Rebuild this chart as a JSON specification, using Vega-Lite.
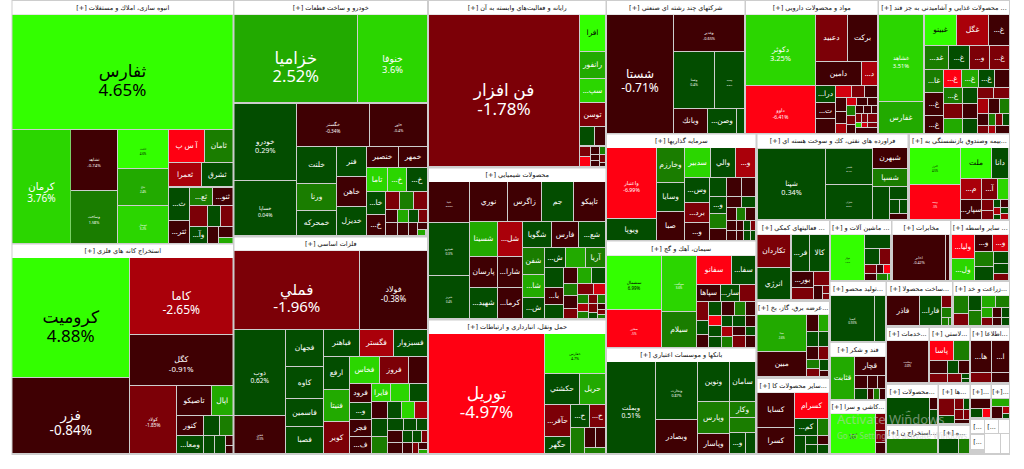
{"$schema":"https://vega.github.io/schema/vega-lite/v6.json","width":1024,"height":469,"padding":0,"autosize":{"type":"fit","contains":"padding"},"background":"#ffffff","view":{"stroke":null},
"datasets":{
"frame":[{"x0":11.5,"x1":1010,"y0":0,"y1":455}],
"marks":[{"x":837,"y":420,"t":"Activate Windows","k":"a"},{"x":837,"y":437,"t":"Go to Settings to activate Windows.","k":"b"}],
"headers":[
{"x0":12.5,"x1":233,"y0":1,"y1":14.5,"title":"[+] انبوه سازی، املاك و مستغلات"},
{"x0":234.5,"x1":427,"y0":1,"y1":14.5,"title":"[+] خودرو و ساخت قطعات"},
{"x0":234.5,"x1":427,"y0":237.5,"y1":250.5,"title":"[+] فلزات اساسي"},
{"x0":12.5,"x1":233,"y0":244.5,"y1":258,"title":"[+] استخراج كانه هاي فلزي"},
{"x0":429,"x1":605.5,"y0":1,"y1":14.5,"title":"[+] رايانه و فعاليت‌هاي وابسته به آن"},
{"x0":429,"x1":605.5,"y0":168.5,"y1":182,"title":"[+] محصولات شيميايي"},
{"x0":429,"x1":605.5,"y0":320.5,"y1":334,"title":"[+] حمل ونقل، انبارداري و ارتباطات"},
{"x0":607,"x1":744.5,"y0":1,"y1":14.5,"title":"[+] شركتهاي چند رشته اي صنعتي"},
{"x0":607,"x1":755.5,"y0":134.5,"y1":148,"title":"[+] سرمايه گذاريها"},
{"x0":607,"x1":755.5,"y0":241.5,"y1":255.5,"title":"[+] سيمان، آهك و گچ"},
{"x0":607,"x1":755.5,"y0":348.5,"y1":362,"title":"[+] بانكها و موسسات اعتباري"},
{"x0":746,"x1":877.5,"y0":1,"y1":14.5,"title":"[+] مواد و محصولات دارويي"},
{"x0":879,"x1":1009,"y0":1,"y1":14.5,"title":"[+] محصولات غذايي و آشاميدني به جز قند ..."},
{"x0":757.5,"x1":907.5,"y0":134.5,"y1":148,"title":"[+] فراورده هاي نفتي، كك و سوخت هسته اي"},
{"x0":910,"x1":1009,"y0":134.5,"y1":148,"title":"[+] بيمه وصندوق بازنشستگي به..."},
{"x0":757.5,"x1":829,"y0":221,"y1":234.5,"title":"[+] فعاليتهاي كمكي ..."},
{"x0":830.5,"x1":891,"y0":221,"y1":234.5,"title":"[+] ماشين آلات و ..."},
{"x0":892.5,"x1":950,"y0":221,"y1":234.5,"title":"[+] مخابرات"},
{"x0":951.5,"x1":1009,"y0":221,"y1":234.5,"title":"[+] سایر واسطه ..."},
{"x0":830.5,"x1":885.5,"y0":282,"y1":295.5,"title":"[+] توليد محصو..."},
{"x0":887,"x1":952,"y0":282,"y1":295.5,"title":"[+] ساخت محصولا..."},
{"x0":953.5,"x1":1009,"y0":282,"y1":295.5,"title":"[+] زراعت و خد..."},
{"x0":757.5,"x1":829,"y0":302,"y1":314.5,"title":"[+] عرضه برق، گاز، بخ..."},
{"x0":887,"x1":928.5,"y0":328,"y1":340.5,"title":"[+] خدمات..."},
{"x0":930,"x1":969.5,"y0":328,"y1":340.5,"title":"[+] لاستي..."},
{"x0":971,"x1":1009,"y0":328,"y1":340.5,"title":"[+] اطلاعا..."},
{"x0":830.5,"x1":885.5,"y0":343,"y1":356.5,"title":"[+] قند و شكر"},
{"x0":757.5,"x1":829,"y0":379,"y1":392.5,"title":"[+] سایر محصولات كا..."},
{"x0":830.5,"x1":885.5,"y0":401,"y1":413.5,"title":"[+] كاشي و سرا..."},
{"x0":887,"x1":937.5,"y0":385,"y1":398,"title":"[+] محصولات..."},
{"x0":939,"x1":969.5,"y0":385,"y1":398,"title":"[+] ها..."},
{"x0":971,"x1":990.5,"y0":385,"y1":398,"title":"[+]..."},
{"x0":992,"x1":1009,"y0":385,"y1":398,"title":"[+]..."},
{"x0":887,"x1":937.5,"y0":426,"y1":439,"title":"[+] استخراج ن..."},
{"x0":939,"x1":969.5,"y0":426,"y1":439,"title":"[+] ه..."},
{"x0":971,"x1":984,"y0":420,"y1":433,"title":"[..."},
{"x0":985,"x1":998,"y0":420,"y1":433,"title":"[..."},
{"x0":999,"x1":1009,"y0":420,"y1":433,"title":""},
{"x0":971,"x1":984,"y0":435,"y1":449,"title":"[..."},
{"x0":985,"x1":1000,"y0":434,"y1":453,"title":""},
{"x0":1001,"x1":1009,"y0":434,"y1":453,"title":""}
],
"tiles":[
{"x0":12.5,"x1":232.5,"y0":15,"y1":129,"chg":4.65,"name":"ثفارس","pct":"4.65%"},
{"x0":12.5,"x1":70.5,"y0":130,"y1":243,"chg":3.76,"name":"كرمان","pct":"3.76%"},
{"x0":71,"x1":117,"y0":130,"y1":190,"chg":-0.74,"name":"ثشاهد","pct":"-0.74%"},
{"x0":71,"x1":117,"y0":191,"y1":243,"chg":1.58,"name":"وساخت","pct":"1.58%"},
{"x0":118,"x1":168,"y0":130,"y1":168,"chg":4.6,"name":"ثاخت","pct":"4.6%"},
{"x0":118,"x1":168,"y0":169,"y1":205,"chg":2.4,"name":"ثباغ","pct":"2.4%"},
{"x0":118,"x1":168,"y0":206,"y1":243,"chg":3.2,"name":"ثبهساز","pct":"3.2%"},
{"x0":169,"x1":204,"y0":130,"y1":162,"chg":-5,"name":"آ س پ"},
{"x0":205,"x1":232.5,"y0":130,"y1":162,"chg":1.5,"name":"ثامان"},
{"x0":169,"x1":201,"y0":163,"y1":186,"chg":-2.5,"name":"ثعمرا"},
{"x0":202,"x1":232.5,"y0":163,"y1":186,"chg":0.5,"name":"ثشرق"},
{"x0":169,"x1":189,"y0":188,"y1":220,"chg":0.5,"name":"...ث"},
{"x0":190,"x1":212,"y0":188,"y1":205,"chg":1.5,"name":"...ثع"},
{"x0":213,"x1":232.5,"y0":188,"y1":205,"chg":-0.6,"name":"...ثنو"},
{"x0":169,"x1":189,"y0":221,"y1":243,"chg":-0.6,"name":"...ثتر"},
{"x0":190,"x1":207,"y0":206,"y1":226,"chg":-1.5},
{"x0":208,"x1":220,"y0":206,"y1":226,"chg":0.5},
{"x0":221,"x1":232.5,"y0":206,"y1":226,"chg":-1.5},
{"x0":190,"x1":207,"y0":227,"y1":243,"chg":0.5,"name":"...وآ"},
{"x0":208,"x1":218,"y0":227,"y1":243,"chg":-0.6},
{"x0":219,"x1":232.5,"y0":227,"y1":237,"chg":-0.6},
{"x0":219,"x1":232.5,"y0":238,"y1":243,"chg":2.5},
{"x0":234.5,"x1":357,"y0":15,"y1":102,"chg":2.52,"name":"خزاميا","pct":"2.52%"},
{"x0":358,"x1":427,"y0":15,"y1":102,"chg":3.6,"name":"خنوفا","pct":"3.6%"},
{"x0":234.5,"x1":296,"y0":104,"y1":180,"chg":0.29,"name":"خودرو","pct":"0.29%"},
{"x0":234.5,"x1":296,"y0":181,"y1":235,"chg":0.04,"name":"خساپا","pct":"0.04%"},
{"x0":297,"x1":369,"y0":104,"y1":146,"chg":-0.34,"name":"خگستر","pct":"-0.34%"},
{"x0":370,"x1":427,"y0":104,"y1":146,"chg":-0.4,"name":"خاور","pct":"-0.4%"},
{"x0":297,"x1":336,"y0":147,"y1":183,"chg":0.5,"name":"خلنت"},
{"x0":297,"x1":336,"y0":184,"y1":210,"chg":1.5,"name":"ورنا"},
{"x0":297,"x1":336,"y0":211,"y1":235,"chg":0.5,"name":"خمحركه"},
{"x0":337,"x1":366,"y0":147,"y1":176,"chg":0.5,"name":"فنر"},
{"x0":337,"x1":366,"y0":177,"y1":206,"chg":-0.5,"name":"خاهن"},
{"x0":337,"x1":366,"y0":207,"y1":235,"chg":0.5,"name":"خديزل"},
{"x0":367,"x1":398,"y0":147,"y1":167,"chg":-0.6,"name":"خنصير"},
{"x0":399,"x1":427,"y0":147,"y1":167,"chg":-0.6,"name":"خمهر"},
{"x0":367,"x1":387,"y0":168,"y1":191,"chg":3.2,"name":"تاما"},
{"x0":388,"x1":406,"y0":168,"y1":191,"chg":3.2,"name":"...خ"},
{"x0":407,"x1":427,"y0":168,"y1":191,"chg":0.5,"name":"...خ"},
{"x0":367,"x1":385,"y0":192,"y1":214,"chg":0.5,"name":"...خا"},
{"x0":386,"x1":399,"y0":192,"y1":209,"chg":-1.5},
{"x0":400,"x1":413,"y0":192,"y1":209,"chg":1.5},
{"x0":414,"x1":427,"y0":192,"y1":209,"chg":-1.5},
{"x0":367,"x1":385,"y0":215,"y1":235,"chg":-0.5,"name":"...خ"},
{"x0":386,"x1":397,"y0":210,"y1":222,"chg":-0.6},
{"x0":398,"x1":408,"y0":210,"y1":222,"chg":2.5},
{"x0":409,"x1":418,"y0":210,"y1":222,"chg":0.5},
{"x0":419,"x1":427,"y0":210,"y1":222,"chg":-1.5},
{"x0":386,"x1":397,"y0":223,"y1":235,"chg":-0.6},
{"x0":398,"x1":408,"y0":223,"y1":235,"chg":-0.6},
{"x0":409,"x1":417,"y0":223,"y1":235,"chg":-0.6},
{"x0":418,"x1":427,"y0":223,"y1":229,"chg":-0.6},
{"x0":418,"x1":425,"y0":230,"y1":235,"chg":2.5},
{"x0":234.5,"x1":359,"y0":251,"y1":329,"chg":-1.96,"name":"فملي","pct":"-1.96%"},
{"x0":360,"x1":427,"y0":251,"y1":329,"chg":-0.38,"name":"فولاد","pct":"-0.38%"},
{"x0":234.5,"x1":285,"y0":330,"y1":415,"chg":0.62,"name":"ذوب","pct":"0.62%"},
{"x0":234.5,"x1":285,"y0":416,"y1":453,"chg":-0.5,"name":"فخوز","pct":"-0.5%"},
{"x0":286,"x1":323,"y0":330,"y1":366,"chg":0.5,"name":"فجهان"},
{"x0":286,"x1":323,"y0":367,"y1":398,"chg":0.5,"name":"كاوه"},
{"x0":286,"x1":323,"y0":399,"y1":426,"chg":0.5,"name":"فاسمين"},
{"x0":286,"x1":323,"y0":427,"y1":453,"chg":0.5,"name":"فصبا"},
{"x0":324,"x1":359,"y0":330,"y1":356,"chg":0.5,"name":"فباهنر"},
{"x0":360,"x1":393,"y0":330,"y1":356,"chg":-2.5,"name":"فگستر"},
{"x0":394,"x1":427,"y0":330,"y1":356,"chg":0.5,"name":"فسبزوار"},
{"x0":324,"x1":349,"y0":357,"y1":389,"chg":0.5,"name":"ارفع"},
{"x0":324,"x1":349,"y0":390,"y1":421,"chg":2.5,"name":"فنيتا"},
{"x0":324,"x1":349,"y0":422,"y1":453,"chg":-1.5,"name":"كوير"},
{"x0":350,"x1":379,"y0":357,"y1":383,"chg":3.2,"name":"فخاس"},
{"x0":380,"x1":408,"y0":357,"y1":383,"chg":-1.5,"name":"فروز"},
{"x0":409,"x1":427,"y0":357,"y1":383,"chg":-0.6},
{"x0":350,"x1":371,"y0":384,"y1":402,"chg":-0.6,"name":"فرود"},
{"x0":350,"x1":371,"y0":403,"y1":419,"chg":0.5,"name":"...و"},
{"x0":350,"x1":371,"y0":420,"y1":436,"chg":-0.6,"name":"فجر"},
{"x0":350,"x1":371,"y0":437,"y1":453,"chg":-0.6,"name":"...ف"},
{"x0":372,"x1":390,"y0":384,"y1":401,"chg":3.2,"name":"فايرا"},
{"x0":391,"x1":409,"y0":384,"y1":401,"chg":3.2},
{"x0":410,"x1":427,"y0":384,"y1":401,"chg":0.5},
{"x0":372,"x1":387,"y0":402,"y1":418,"chg":-0.6},
{"x0":388,"x1":401,"y0":402,"y1":418,"chg":0.5},
{"x0":402,"x1":414,"y0":402,"y1":418,"chg":3.2},
{"x0":415,"x1":427,"y0":402,"y1":418,"chg":-2.5},
{"x0":372,"x1":387,"y0":419,"y1":436,"chg":0.5},
{"x0":372,"x1":387,"y0":437,"y1":453,"chg":1.5},
{"x0":388,"x1":403,"y0":419,"y1":430,"chg":0.5},
{"x0":404,"x1":416,"y0":419,"y1":430,"chg":0.5},
{"x0":417,"x1":427,"y0":419,"y1":430,"chg":0.5},
{"x0":388,"x1":402,"y0":431,"y1":442,"chg":-0.6},
{"x0":403,"x1":412,"y0":431,"y1":442,"chg":0.5},
{"x0":413,"x1":421,"y0":431,"y1":442,"chg":0.5},
{"x0":422,"x1":427,"y0":431,"y1":442,"chg":-1.5},
{"x0":388,"x1":402,"y0":443,"y1":453,"chg":-0.6},
{"x0":403,"x1":412,"y0":443,"y1":453,"chg":-0.6},
{"x0":413,"x1":418,"y0":443,"y1":453,"chg":-1.5},
{"x0":419,"x1":427,"y0":443,"y1":449,"chg":-0.6},
{"x0":419,"x1":427,"y0":450,"y1":453,"chg":2.5},
{"x0":12.5,"x1":129,"y0":258,"y1":377,"chg":4.88,"name":"كروميت","pct":"4.88%"},
{"x0":12.5,"x1":129,"y0":378,"y1":453,"chg":-0.84,"name":"فزر","pct":"-0.84%"},
{"x0":130,"x1":232.5,"y0":258,"y1":334,"chg":-2.65,"name":"كاما","pct":"-2.65%"},
{"x0":130,"x1":232.5,"y0":335,"y1":385,"chg":-0.91,"name":"كگل","pct":"-0.91%"},
{"x0":130,"x1":176,"y0":386,"y1":453,"chg":-1.85,"name":"كولاد","pct":"-1.85%"},
{"x0":177,"x1":211,"y0":386,"y1":415,"chg":-0.6,"name":"تاصيكو"},
{"x0":212,"x1":232.5,"y0":386,"y1":415,"chg":2.7,"name":"اپال"},
{"x0":177,"x1":203,"y0":416,"y1":435,"chg":-0.6,"name":"كنور"},
{"x0":204,"x1":219,"y0":416,"y1":435,"chg":0.5},
{"x0":220,"x1":232.5,"y0":416,"y1":435,"chg":1.5},
{"x0":177,"x1":203,"y0":436,"y1":453,"chg":0.5,"name":"...ومعا"},
{"x0":204,"x1":214,"y0":436,"y1":453,"chg":0.5},
{"x0":215,"x1":225,"y0":436,"y1":453,"chg":0.5},
{"x0":226,"x1":232.5,"y0":436,"y1":445,"chg":-0.6},
{"x0":226,"x1":232.5,"y0":446,"y1":453,"chg":-0.6},
{"x0":429,"x1":579,"y0":15,"y1":166,"chg":-1.78,"name":"فن افزار","pct":"-1.78%"},
{"x0":580,"x1":605,"y0":15,"y1":51,"chg":4.6,"name":"افرا"},
{"x0":580,"x1":605,"y0":52,"y1":78,"chg":2.5,"name":"رانفور"},
{"x0":580,"x1":605,"y0":79,"y1":102,"chg":3.8,"name":"...سپ"},
{"x0":580,"x1":605,"y0":103,"y1":126,"chg":-1.5,"name":"توسن"},
{"x0":580,"x1":594,"y0":127,"y1":145,"chg":0.5},
{"x0":595,"x1":605,"y0":127,"y1":145,"chg":-0.6},
{"x0":580,"x1":590,"y0":147,"y1":156,"chg":-1.5},
{"x0":591,"x1":599,"y0":147,"y1":154,"chg":-0.6},
{"x0":600,"x1":605,"y0":147,"y1":154,"chg":1.5},
{"x0":580,"x1":590,"y0":157,"y1":166,"chg":-5},
{"x0":591,"x1":599,"y0":155,"y1":160,"chg":-0.6},
{"x0":600,"x1":605,"y0":155,"y1":162,"chg":-1.5},
{"x0":591,"x1":599,"y0":161,"y1":166,"chg":-0.6},
{"x0":600,"x1":605,"y0":163,"y1":166,"chg":-0.6},
{"x0":429,"x1":469,"y0":182,"y1":222,"chg":-0.55,"name":"شپنا","pct":"-0.55%"},
{"x0":470,"x1":507,"y0":182,"y1":221,"chg":-0.6,"name":"نوري"},
{"x0":508,"x1":541,"y0":182,"y1":221,"chg":-0.6,"name":"زاگرس"},
{"x0":542,"x1":573,"y0":182,"y1":221,"chg":0.5,"name":"جم"},
{"x0":574,"x1":605,"y0":182,"y1":221,"chg":-0.6,"name":"تاپيكو"},
{"x0":429,"x1":469,"y0":223,"y1":275,"chg":0.3,"name":"شپترو","pct":"0.3%"},
{"x0":429,"x1":469,"y0":276,"y1":318,"chg":0.4,"name":"شبريز","pct":"0.4%"},
{"x0":470,"x1":497,"y0":222,"y1":256,"chg":2.6,"name":"شسينا"},
{"x0":498,"x1":522,"y0":222,"y1":256,"chg":-2.5,"name":"...شل"},
{"x0":523,"x1":551,"y0":222,"y1":247,"chg":0.5,"name":"شگويا"},
{"x0":552,"x1":578,"y0":222,"y1":247,"chg":-0.6,"name":"فارس"},
{"x0":579,"x1":605,"y0":222,"y1":247,"chg":0.5,"name":"...شع"},
{"x0":523,"x1":544,"y0":248,"y1":274,"chg":1.5,"name":"شفن"},
{"x0":545,"x1":565,"y0":248,"y1":267,"chg":0.5,"name":"...ش"},
{"x0":566,"x1":585,"y0":248,"y1":267,"chg":2.5},
{"x0":586,"x1":605,"y0":248,"y1":267,"chg":1.5,"name":"آريا"},
{"x0":523,"x1":544,"y0":275,"y1":297,"chg":2.5,"name":"...شا"},
{"x0":523,"x1":544,"y0":298,"y1":318,"chg":0.5,"name":"...ش"},
{"x0":470,"x1":497,"y0":257,"y1":287,"chg":-0.6,"name":"پارسان"},
{"x0":470,"x1":497,"y0":288,"y1":318,"chg":0.5,"name":"...شهيد"},
{"x0":498,"x1":522,"y0":257,"y1":287,"chg":-0.6,"name":"...شارا"},
{"x0":498,"x1":522,"y0":288,"y1":318,"chg":-0.6,"name":"...كرما"},
{"x0":545,"x1":563,"y0":268,"y1":287,"chg":0.5},
{"x0":564,"x1":577,"y0":268,"y1":283,"chg":-0.6},
{"x0":578,"x1":591,"y0":268,"y1":283,"chg":2.5},
{"x0":592,"x1":605,"y0":268,"y1":283,"chg":0.5},
{"x0":545,"x1":563,"y0":288,"y1":304,"chg":-0.6,"name":"...با"},
{"x0":545,"x1":563,"y0":305,"y1":318,"chg":0.5},
{"x0":564,"x1":577,"y0":284,"y1":295,"chg":1.5},
{"x0":578,"x1":593,"y0":284,"y1":294,"chg":-1.5},
{"x0":594,"x1":605,"y0":284,"y1":294,"chg":-3.5},
{"x0":564,"x1":577,"y0":296,"y1":308,"chg":-0.6},
{"x0":578,"x1":588,"y0":295,"y1":303,"chg":1.5},
{"x0":589,"x1":597,"y0":295,"y1":303,"chg":-1.5},
{"x0":598,"x1":605,"y0":295,"y1":303,"chg":1.5},
{"x0":564,"x1":577,"y0":309,"y1":318,"chg":-1.5},
{"x0":578,"x1":588,"y0":304,"y1":311,"chg":-2.5},
{"x0":589,"x1":597,"y0":304,"y1":312,"chg":-1.5},
{"x0":598,"x1":605,"y0":304,"y1":309,"chg":-0.6},
{"x0":598,"x1":605,"y0":310,"y1":314,"chg":-1.5},
{"x0":578,"x1":588,"y0":312,"y1":318,"chg":1.5},
{"x0":589,"x1":597,"y0":313,"y1":318,"chg":0.5},
{"x0":598,"x1":605,"y0":315,"y1":318,"chg":1.5},
{"x0":429,"x1":544,"y0":334,"y1":453,"chg":-4.97,"name":"توريل","pct":"-4.97%"},
{"x0":545,"x1":605,"y0":334,"y1":373,"chg":4.7,"name":"حفارس","pct":"4.7%"},
{"x0":545,"x1":579,"y0":374,"y1":404,"chg":0.5,"name":"حكشتي"},
{"x0":580,"x1":605,"y0":374,"y1":404,"chg":2.7,"name":"حريل"},
{"x0":545,"x1":570,"y0":405,"y1":436,"chg":-1.5,"name":"...حآفر"},
{"x0":571,"x1":589,"y0":405,"y1":427,"chg":0.5,"name":"...ح"},
{"x0":590,"x1":605,"y0":405,"y1":427,"chg":-1.5,"name":"...ح"},
{"x0":545,"x1":570,"y0":437,"y1":453,"chg":0.5,"name":"حگهر"},
{"x0":571,"x1":584,"y0":428,"y1":453,"chg":1.5},
{"x0":585,"x1":595,"y0":428,"y1":447,"chg":-0.6},
{"x0":596,"x1":605,"y0":428,"y1":447,"chg":-0.6},
{"x0":585,"x1":605,"y0":448,"y1":453,"chg":1.5},
{"x0":607,"x1":673,"y0":15,"y1":133,"chg":-0.71,"name":"شستا","pct":"-0.71%"},
{"x0":674,"x1":744,"y0":15,"y1":51,"chg":-0.65,"name":"وغدير","pct":"-0.65%"},
{"x0":674,"x1":714,"y0":52,"y1":108,"chg":0.4,"name":"وصنا","pct":"0.4%"},
{"x0":715,"x1":744,"y0":52,"y1":108,"chg":0.3,"name":"وسپه","pct":"0.3%"},
{"x0":674,"x1":707,"y0":109,"y1":133,"chg":-0.6,"name":"وبانك"},
{"x0":708,"x1":736,"y0":109,"y1":133,"chg":0.5,"name":"...وصن"},
{"x0":737,"x1":744,"y0":109,"y1":133,"chg":0.5},
{"x0":607,"x1":656,"y0":148,"y1":218,"chg":-6.99,"name":"واعتبار","pct":"-6.99%"},
{"x0":607,"x1":656,"y0":219,"y1":240,"chg":0.5,"name":"ويوپا"},
{"x0":657,"x1":684,"y0":148,"y1":182,"chg":1.5,"name":"وخارزم"},
{"x0":657,"x1":684,"y0":183,"y1":211,"chg":0.5,"name":"وسايا"},
{"x0":657,"x1":684,"y0":212,"y1":240,"chg":-0.6,"name":"صبا"},
{"x0":685,"x1":710,"y0":148,"y1":177,"chg":3.8,"name":"سدبير"},
{"x0":711,"x1":735,"y0":148,"y1":177,"chg":0.5,"name":"والي"},
{"x0":736,"x1":755,"y0":148,"y1":177,"chg":-2.5,"name":"...و"},
{"x0":685,"x1":709,"y0":178,"y1":202,"chg":0.5,"name":"...وس"},
{"x0":685,"x1":709,"y0":203,"y1":222,"chg":-1.5,"name":"...برد"},
{"x0":685,"x1":709,"y0":223,"y1":240,"chg":-0.6,"name":"...و"},
{"x0":710,"x1":726,"y0":178,"y1":196,"chg":0.5},
{"x0":727,"x1":741,"y0":178,"y1":196,"chg":-0.6},
{"x0":742,"x1":755,"y0":178,"y1":196,"chg":-0.6},
{"x0":710,"x1":726,"y0":197,"y1":213,"chg":0.5,"name":"...و"},
{"x0":710,"x1":726,"y0":214,"y1":228,"chg":1.5},
{"x0":710,"x1":726,"y0":229,"y1":240,"chg":-0.6},
{"x0":727,"x1":741,"y0":197,"y1":207,"chg":-0.6},
{"x0":742,"x1":755,"y0":197,"y1":207,"chg":0.5},
{"x0":727,"x1":736,"y0":208,"y1":220,"chg":-0.6},
{"x0":737,"x1":745,"y0":208,"y1":220,"chg":1.5},
{"x0":746,"x1":755,"y0":208,"y1":220,"chg":-0.6},
{"x0":727,"x1":736,"y0":221,"y1":230,"chg":-0.6},
{"x0":737,"x1":743,"y0":221,"y1":230,"chg":-0.6},
{"x0":744,"x1":750,"y0":221,"y1":230,"chg":0.5},
{"x0":751,"x1":755,"y0":221,"y1":230,"chg":-1.5},
{"x0":727,"x1":736,"y0":231,"y1":240,"chg":-0.6},
{"x0":737,"x1":743,"y0":231,"y1":240,"chg":-0.6},
{"x0":744,"x1":750,"y0":231,"y1":240,"chg":0.5},
{"x0":751,"x1":755,"y0":231,"y1":240,"chg":0.5},
{"x0":607,"x1":661,"y0":256,"y1":309,"chg":6.99,"name":"سشمال","pct":"6.99%"},
{"x0":662,"x1":696,"y0":256,"y1":311,"chg":3.6,"name":"سهگمت","pct":"3.6%"},
{"x0":607,"x1":661,"y0":310,"y1":347,"chg":-5,"name":"سخزر","pct":"-5%"},
{"x0":662,"x1":696,"y0":312,"y1":347,"chg":1.5,"name":"سيلام"},
{"x0":697,"x1":731,"y0":256,"y1":284,"chg":-5,"name":"سفانو"},
{"x0":732,"x1":755,"y0":256,"y1":284,"chg":0.5,"name":"...سفا"},
{"x0":697,"x1":720,"y0":285,"y1":301,"chg":-0.6,"name":"سپاها"},
{"x0":721,"x1":739,"y0":285,"y1":301,"chg":0.5,"name":"...سار"},
{"x0":740,"x1":755,"y0":285,"y1":301,"chg":-1.5},
{"x0":697,"x1":708,"y0":302,"y1":320,"chg":-1.5},
{"x0":709,"x1":721,"y0":302,"y1":315,"chg":0.5},
{"x0":722,"x1":734,"y0":302,"y1":315,"chg":-0.6},
{"x0":735,"x1":745,"y0":302,"y1":315,"chg":1.5},
{"x0":746,"x1":755,"y0":302,"y1":315,"chg":-0.6},
{"x0":697,"x1":708,"y0":321,"y1":334,"chg":0.5},
{"x0":697,"x1":708,"y0":335,"y1":347,"chg":-0.6},
{"x0":709,"x1":721,"y0":316,"y1":325,"chg":-5},
{"x0":709,"x1":721,"y0":326,"y1":336,"chg":0.5},
{"x0":709,"x1":721,"y0":337,"y1":347,"chg":0.5},
{"x0":722,"x1":732,"y0":316,"y1":326,"chg":0.5},
{"x0":733,"x1":745,"y0":316,"y1":326,"chg":0.5},
{"x0":746,"x1":755,"y0":316,"y1":326,"chg":-0.6},
{"x0":722,"x1":732,"y0":327,"y1":336,"chg":-2.5},
{"x0":722,"x1":732,"y0":337,"y1":347,"chg":1.5},
{"x0":733,"x1":745,"y0":327,"y1":335,"chg":-0.6},
{"x0":746,"x1":755,"y0":327,"y1":335,"chg":0.5},
{"x0":733,"x1":745,"y0":336,"y1":347,"chg":-1.5},
{"x0":746,"x1":755,"y0":336,"y1":347,"chg":-0.6},
{"x0":607,"x1":655,"y0":362,"y1":453,"chg":0.51,"name":"وبملت","pct":"0.51%"},
{"x0":656,"x1":697,"y0":362,"y1":419,"chg":0.87,"name":"وتجارت","pct":"0.87%"},
{"x0":656,"x1":697,"y0":420,"y1":453,"chg":-0.6,"name":"وبصادر"},
{"x0":698,"x1":729,"y0":362,"y1":401,"chg":0.5,"name":"ونوين"},
{"x0":730,"x1":755,"y0":362,"y1":401,"chg":0.5,"name":"سامان"},
{"x0":698,"x1":729,"y0":402,"y1":433,"chg":1.5,"name":"وپارس"},
{"x0":730,"x1":755,"y0":402,"y1":417,"chg":1.5,"name":"وكار"},
{"x0":730,"x1":755,"y0":418,"y1":432,"chg":1.5},
{"x0":698,"x1":729,"y0":434,"y1":453,"chg":-0.6,"name":"وپاسار"},
{"x0":730,"x1":745,"y0":433,"y1":453,"chg":0.5,"name":"...و"},
{"x0":746,"x1":755,"y0":433,"y1":453,"chg":0.5},
{"x0":746,"x1":815,"y0":15,"y1":85,"chg":3.25,"name":"دكوثر","pct":"3.25%"},
{"x0":746,"x1":815,"y0":86,"y1":133,"chg":-6.41,"name":"داوو","pct":"-6.41%"},
{"x0":816,"x1":847,"y0":15,"y1":61,"chg":-1.5,"name":"دعبيد"},
{"x0":848,"x1":877,"y0":15,"y1":61,"chg":-0.6,"name":"بركت"},
{"x0":816,"x1":861,"y0":62,"y1":85,"chg":-0.6,"name":"دامين"},
{"x0":862,"x1":877,"y0":62,"y1":85,"chg":-2.5,"name":"...د"},
{"x0":816,"x1":835,"y0":86,"y1":102,"chg":0.5,"name":"...درا"},
{"x0":816,"x1":835,"y0":103,"y1":118,"chg":-0.6,"name":"...ت"},
{"x0":816,"x1":835,"y0":119,"y1":133,"chg":-0.6},
{"x0":836,"x1":851,"y0":86,"y1":97,"chg":-3.5},
{"x0":852,"x1":864,"y0":86,"y1":97,"chg":-1.5},
{"x0":865,"x1":877,"y0":86,"y1":97,"chg":-0.6},
{"x0":836,"x1":846,"y0":98,"y1":111,"chg":-0.6},
{"x0":847,"x1":856,"y0":98,"y1":105,"chg":-3.5},
{"x0":857,"x1":867,"y0":98,"y1":105,"chg":-0.6},
{"x0":868,"x1":877,"y0":98,"y1":105,"chg":-0.6},
{"x0":836,"x1":846,"y0":112,"y1":123,"chg":-0.6},
{"x0":836,"x1":846,"y0":124,"y1":133,"chg":-2.5},
{"x0":847,"x1":855,"y0":106,"y1":115,"chg":1.5},
{"x0":847,"x1":855,"y0":116,"y1":124,"chg":-1.5},
{"x0":847,"x1":855,"y0":125,"y1":133,"chg":-0.6},
{"x0":856,"x1":863,"y0":106,"y1":113,"chg":-0.6},
{"x0":864,"x1":871,"y0":106,"y1":113,"chg":-0.6},
{"x0":872,"x1":877,"y0":106,"y1":113,"chg":-0.6},
{"x0":856,"x1":861,"y0":114,"y1":122,"chg":-1.5},
{"x0":862,"x1":867,"y0":114,"y1":122,"chg":-1.5},
{"x0":868,"x1":877,"y0":114,"y1":122,"chg":-1.5},
{"x0":856,"x1":861,"y0":123,"y1":127,"chg":3.5},
{"x0":862,"x1":867,"y0":123,"y1":127,"chg":-3.5},
{"x0":868,"x1":877,"y0":123,"y1":127,"chg":-1.5},
{"x0":856,"x1":877,"y0":128,"y1":133,"chg":-0.6},
{"x0":879,"x1":923,"y0":15,"y1":101,"chg":3.51,"name":"غشاهد","pct":"3.51%"},
{"x0":879,"x1":923,"y0":102,"y1":133,"chg":2.5,"name":"غفارس"},
{"x0":925,"x1":956,"y0":15,"y1":45,"chg":4.5,"name":"غبينو"},
{"x0":957,"x1":988,"y0":15,"y1":45,"chg":-2.5,"name":"غگل"},
{"x0":989,"x1":1009,"y0":15,"y1":45,"chg":-0.6,"name":"...غ"},
{"x0":925,"x1":948,"y0":46,"y1":69,"chg":1.5,"name":"...غد"},
{"x0":949,"x1":969,"y0":46,"y1":69,"chg":0.5,"name":"...غ"},
{"x0":970,"x1":989,"y0":46,"y1":69,"chg":-1.5,"name":"...و"},
{"x0":990,"x1":1009,"y0":46,"y1":69,"chg":-1.5,"name":"...غ"},
{"x0":925,"x1":943,"y0":70,"y1":92,"chg":1.5,"name":"...غا"},
{"x0":944,"x1":961,"y0":70,"y1":87,"chg":-4.5,"name":"...غ"},
{"x0":962,"x1":978,"y0":70,"y1":87,"chg":2.7,"name":"...غ"},
{"x0":979,"x1":994,"y0":70,"y1":87,"chg":0.5,"name":"...غ"},
{"x0":995,"x1":1009,"y0":70,"y1":87,"chg":-0.6},
{"x0":925,"x1":943,"y0":93,"y1":115,"chg":-0.6,"name":"...غ"},
{"x0":925,"x1":943,"y0":116,"y1":133,"chg":-0.6,"name":"...غ"},
{"x0":944,"x1":962,"y0":88,"y1":103,"chg":1.5,"name":"...غ"},
{"x0":963,"x1":977,"y0":88,"y1":103,"chg":0.5},
{"x0":978,"x1":993,"y0":88,"y1":98,"chg":-1.5},
{"x0":994,"x1":1009,"y0":88,"y1":98,"chg":-1.5},
{"x0":944,"x1":962,"y0":104,"y1":118,"chg":-1.5},
{"x0":963,"x1":977,"y0":104,"y1":118,"chg":-0.6},
{"x0":978,"x1":988,"y0":99,"y1":113,"chg":-2.5},
{"x0":989,"x1":999,"y0":99,"y1":113,"chg":-0.6},
{"x0":1000,"x1":1009,"y0":99,"y1":113,"chg":1.5},
{"x0":944,"x1":962,"y0":119,"y1":133,"chg":2.5},
{"x0":963,"x1":977,"y0":119,"y1":133,"chg":0.5},
{"x0":978,"x1":988,"y0":114,"y1":125,"chg":-0.6},
{"x0":989,"x1":995,"y0":114,"y1":125,"chg":1.5},
{"x0":996,"x1":1002,"y0":114,"y1":125,"chg":-1.5},
{"x0":1003,"x1":1009,"y0":114,"y1":125,"chg":0.5},
{"x0":978,"x1":988,"y0":126,"y1":133,"chg":-1.5},
{"x0":989,"x1":995,"y0":126,"y1":133,"chg":-2.5},
{"x0":996,"x1":1009,"y0":126,"y1":133,"chg":-0.6},
{"x0":758,"x1":825,"y0":149,"y1":219,"chg":0.34,"name":"شپنا","pct":"0.34%"},
{"x0":826,"x1":872,"y0":149,"y1":184,"chg":0.4,"name":"شبندر","pct":"0.4%"},
{"x0":826,"x1":872,"y0":185,"y1":219,"chg":0.2,"name":"شتران","pct":"0.2%"},
{"x0":873,"x1":907,"y0":148,"y1":168,"chg":-0.6,"name":"شبهرن"},
{"x0":873,"x1":907,"y0":169,"y1":186,"chg":1.5,"name":"شسپا"},
{"x0":873,"x1":889,"y0":187,"y1":219,"chg":0.5},
{"x0":890,"x1":907,"y0":187,"y1":199,"chg":0.5},
{"x0":890,"x1":899,"y0":200,"y1":213,"chg":0.5},
{"x0":900,"x1":907,"y0":200,"y1":213,"chg":0.5},
{"x0":890,"x1":907,"y0":214,"y1":219,"chg":-0.6},
{"x0":910,"x1":960,"y0":148,"y1":184,"chg":4.5,"name":"البرز","pct":"4.5%"},
{"x0":910,"x1":960,"y0":185,"y1":219,"chg":-5,"name":"وبيمه","pct":"-5%"},
{"x0":961,"x1":991,"y0":148,"y1":178,"chg":4.6,"name":"ملت"},
{"x0":992,"x1":1008,"y0":148,"y1":178,"chg":0.5,"name":"دانا"},
{"x0":961,"x1":981,"y0":179,"y1":199,"chg":-2.5,"name":"...م"},
{"x0":982,"x1":997,"y0":179,"y1":199,"chg":-1.5,"name":"...آ"},
{"x0":998,"x1":1008,"y0":179,"y1":199,"chg":3.2},
{"x0":961,"x1":981,"y0":200,"y1":219,"chg":-0.6,"name":"...سپار"},
{"x0":982,"x1":993,"y0":200,"y1":210,"chg":-1.5},
{"x0":994,"x1":1000,"y0":200,"y1":207,"chg":0.5},
{"x0":1001,"x1":1008,"y0":200,"y1":207,"chg":-0.6},
{"x0":982,"x1":993,"y0":211,"y1":219,"chg":-1.5},
{"x0":994,"x1":1000,"y0":208,"y1":214,"chg":-2.5},
{"x0":1001,"x1":1008,"y0":208,"y1":213,"chg":0.5},
{"x0":994,"x1":1000,"y0":215,"y1":219,"chg":0.5},
{"x0":1001,"x1":1008,"y0":214,"y1":219,"chg":-2.5},
{"x0":757.5,"x1":790,"y0":235,"y1":267,"chg":-1.5,"name":"تكاردان"},
{"x0":757.5,"x1":790,"y0":268,"y1":299,"chg":0.5,"name":"انرژي"},
{"x0":792,"x1":809,"y0":235,"y1":271,"chg":0.5,"name":"...فر"},
{"x0":810,"x1":829,"y0":235,"y1":271,"chg":0.5,"name":"كالا"},
{"x0":792,"x1":813,"y0":272,"y1":287,"chg":-0.6,"name":"...بور"},
{"x0":814,"x1":829,"y0":272,"y1":285,"chg":-1.5},
{"x0":792,"x1":813,"y0":288,"y1":299,"chg":-1.5},
{"x0":814,"x1":822,"y0":286,"y1":299,"chg":-0.6},
{"x0":823,"x1":829,"y0":286,"y1":293,"chg":-1.5},
{"x0":823,"x1":829,"y0":294,"y1":299,"chg":-1.5},
{"x0":831,"x1":864,"y0":235,"y1":280,"chg":4.6,"name":"فولاژ","pct":"4.6%"},
{"x0":865,"x1":890,"y0":235,"y1":248,"chg":0.5},
{"x0":865,"x1":879,"y0":249,"y1":264,"chg":0.5},
{"x0":880,"x1":890,"y0":249,"y1":264,"chg":-1.5},
{"x0":865,"x1":876,"y0":265,"y1":273,"chg":-1.5},
{"x0":877,"x1":883,"y0":265,"y1":273,"chg":-0.6},
{"x0":884,"x1":890,"y0":265,"y1":273,"chg":-5},
{"x0":865,"x1":876,"y0":274,"y1":280,"chg":-0.6},
{"x0":877,"x1":887,"y0":274,"y1":280,"chg":1.5},
{"x0":888,"x1":890,"y0":274,"y1":280,"chg":2.5},
{"x0":893,"x1":945,"y0":235,"y1":280,"chg":-0.42,"name":"اخابر","pct":"-0.42%"},
{"x0":946,"x1":949,"y0":235,"y1":280,"chg":-0.6},
{"x0":952,"x1":974,"y0":235,"y1":258,"chg":-5,"name":"...وليا"},
{"x0":975,"x1":992,"y0":235,"y1":251,"chg":-0.6,"name":"...و"},
{"x0":993,"x1":1008,"y0":235,"y1":251,"chg":-3.5,"name":"...و"},
{"x0":952,"x1":974,"y0":259,"y1":280,"chg":3.2,"name":"...ول"},
{"x0":975,"x1":993,"y0":252,"y1":266,"chg":1.5},
{"x0":994,"x1":1008,"y0":252,"y1":263,"chg":0.5},
{"x0":994,"x1":1008,"y0":264,"y1":273,"chg":0.5},
{"x0":975,"x1":993,"y0":267,"y1":280,"chg":0.5},
{"x0":994,"x1":1008,"y0":274,"y1":280,"chg":-1.5},
{"x0":831,"x1":874,"y0":296,"y1":341,"chg":0.93,"name":"كيمیا","pct":"0.93%"},
{"x0":875,"x1":885,"y0":296,"y1":341,"chg":0.5},
{"x0":887,"x1":919,"y0":296,"y1":325,"chg":-0.6,"name":"فاذر"},
{"x0":920,"x1":941,"y0":296,"y1":325,"chg":0.5,"name":"...فارا"},
{"x0":942,"x1":951,"y0":296,"y1":307,"chg":-1.5},
{"x0":942,"x1":951,"y0":308,"y1":317,"chg":1.5},
{"x0":942,"x1":948,"y0":318,"y1":325,"chg":1.5},
{"x0":949,"x1":951,"y0":318,"y1":325,"chg":1.5},
{"x0":954,"x1":968,"y0":296,"y1":313,"chg":1.5},
{"x0":969,"x1":981,"y0":296,"y1":310,"chg":0.5},
{"x0":982,"x1":995,"y0":296,"y1":307,"chg":2.5},
{"x0":996,"x1":1009,"y0":296,"y1":307,"chg":1.5},
{"x0":954,"x1":968,"y0":314,"y1":325,"chg":-1.5},
{"x0":969,"x1":981,"y0":311,"y1":325,"chg":1.5},
{"x0":982,"x1":992,"y0":308,"y1":317,"chg":2.5},
{"x0":982,"x1":992,"y0":318,"y1":325,"chg":-1.5},
{"x0":993,"x1":1001,"y0":308,"y1":317,"chg":-0.6},
{"x0":1002,"x1":1009,"y0":308,"y1":317,"chg":0.5},
{"x0":993,"x1":1001,"y0":318,"y1":325,"chg":-0.6},
{"x0":1002,"x1":1009,"y0":318,"y1":325,"chg":0.5},
{"x0":887,"x1":928,"y0":341,"y1":382,"chg":-0.8,"name":"وحكمت","pct":"-0.8%"},
{"x0":930,"x1":953,"y0":341,"y1":360,"chg":-5,"name":"پاسا"},
{"x0":954,"x1":969,"y0":341,"y1":360,"chg":1.5},
{"x0":930,"x1":947,"y0":361,"y1":373,"chg":-0.6},
{"x0":948,"x1":958,"y0":361,"y1":373,"chg":0.5},
{"x0":959,"x1":969,"y0":361,"y1":373,"chg":-0.6},
{"x0":930,"x1":947,"y0":374,"y1":382,"chg":-1.5},
{"x0":948,"x1":961,"y0":374,"y1":382,"chg":-1.5},
{"x0":962,"x1":969,"y0":374,"y1":378,"chg":0.5},
{"x0":962,"x1":969,"y0":379,"y1":382,"chg":0.5},
{"x0":971,"x1":991,"y0":341,"y1":372,"chg":-0.6,"name":"...ها"},
{"x0":992,"x1":1009,"y0":341,"y1":372,"chg":-0.6,"name":"...ا"},
{"x0":971,"x1":991,"y0":373,"y1":382,"chg":-1.5},
{"x0":992,"x1":1009,"y0":373,"y1":382,"chg":-0.6},
{"x0":831,"x1":854,"y0":357,"y1":399,"chg":2.7,"name":"قثابت"},
{"x0":855,"x1":885,"y0":357,"y1":375,"chg":-0.6,"name":"قچار"},
{"x0":855,"x1":867,"y0":376,"y1":388,"chg":-0.6},
{"x0":868,"x1":877,"y0":376,"y1":388,"chg":-0.6},
{"x0":878,"x1":885,"y0":376,"y1":388,"chg":-0.6},
{"x0":855,"x1":867,"y0":389,"y1":399,"chg":0.5},
{"x0":868,"x1":873,"y0":389,"y1":399,"chg":-0.6},
{"x0":874,"x1":879,"y0":389,"y1":399,"chg":1.5},
{"x0":880,"x1":885,"y0":389,"y1":399,"chg":-0.6},
{"x0":757.5,"x1":794,"y0":393,"y1":427,"chg":-0.6,"name":"كسايا"},
{"x0":757.5,"x1":794,"y0":428,"y1":453,"chg":-0.6,"name":"كسرا"},
{"x0":795,"x1":828,"y0":393,"y1":418,"chg":-5,"name":"كسرام"},
{"x0":795,"x1":817,"y0":419,"y1":435,"chg":0.5,"name":"...كم"},
{"x0":818,"x1":828,"y0":419,"y1":435,"chg":1.5},
{"x0":795,"x1":805,"y0":436,"y1":453,"chg":0.5},
{"x0":806,"x1":817,"y0":436,"y1":444,"chg":0.5},
{"x0":818,"x1":828,"y0":436,"y1":444,"chg":-0.6},
{"x0":806,"x1":817,"y0":445,"y1":453,"chg":0.5},
{"x0":818,"x1":828,"y0":445,"y1":453,"chg":0.5},
{"x0":757.5,"x1":806,"y0":315,"y1":351,"chg":2.6,"name":"مپنا","pct":"2.6%"},
{"x0":757.5,"x1":806,"y0":352,"y1":376,"chg":-0.6,"name":"مبين"},
{"x0":807,"x1":818,"y0":315,"y1":331,"chg":-0.6},
{"x0":819,"x1":828,"y0":315,"y1":331,"chg":2.5},
{"x0":807,"x1":818,"y0":332,"y1":346,"chg":0.5},
{"x0":819,"x1":828,"y0":332,"y1":346,"chg":0.5},
{"x0":807,"x1":818,"y0":347,"y1":359,"chg":-0.6},
{"x0":819,"x1":828,"y0":347,"y1":359,"chg":-1.5},
{"x0":807,"x1":819,"y0":360,"y1":368,"chg":1.5},
{"x0":820,"x1":828,"y0":360,"y1":370,"chg":0.5},
{"x0":807,"x1":819,"y0":369,"y1":376,"chg":-1.5},
{"x0":820,"x1":828,"y0":371,"y1":376,"chg":-0.6},
{"x0":831,"x1":875,"y0":414,"y1":453,"chg":4.6,"name":"كسعدي","pct":"4.6%"},
{"x0":876,"x1":885,"y0":414,"y1":430,"chg":-1.5},
{"x0":876,"x1":885,"y0":431,"y1":442,"chg":-1.5},
{"x0":876,"x1":885,"y0":443,"y1":453,"chg":-0.6},
{"x0":887,"x1":929,"y0":398,"y1":424,"chg":0.5,"name":"چكارن","pct":"0.5%"},
{"x0":930,"x1":937,"y0":398,"y1":409,"chg":-0.6},
{"x0":930,"x1":937,"y0":410,"y1":424,"chg":0.5},
{"x0":939,"x1":954,"y0":399,"y1":415,"chg":-1.5},
{"x0":955,"x1":963,"y0":399,"y1":409,"chg":-1.5},
{"x0":964,"x1":969,"y0":399,"y1":409,"chg":0.5},
{"x0":955,"x1":963,"y0":410,"y1":419,"chg":-1.5},
{"x0":964,"x1":969,"y0":410,"y1":419,"chg":-1.5},
{"x0":939,"x1":954,"y0":416,"y1":423,"chg":0.5},
{"x0":955,"x1":969,"y0":420,"y1":423,"chg":-0.6},
{"x0":971,"x1":990,"y0":399,"y1":408,"chg":-0.6},
{"x0":971,"x1":982,"y0":409,"y1":417,"chg":0.5},
{"x0":983,"x1":990,"y0":409,"y1":417,"chg":-5},
{"x0":992,"x1":1009,"y0":399,"y1":406,"chg":2.7},
{"x0":992,"x1":1002,"y0":407,"y1":418,"chg":-0.6},
{"x0":1003,"x1":1009,"y0":407,"y1":413,"chg":-2.5},
{"x0":1003,"x1":1009,"y0":414,"y1":418,"chg":0.5},
{"x0":887,"x1":937,"y0":439,"y1":453,"chg":1.5},
{"x0":939,"x1":958,"y0":439,"y1":453,"chg":0.5},
{"x0":959,"x1":969,"y0":439,"y1":453,"chg":1.5}
]},
"encoding":{},
"layer":[
{"data":{"name":"frame"},"mark":{"type":"rect","color":"#cdcdcd"},"encoding":{"x":{"field":"x0","type":"quantitative","scale":{"domain":[0,1024],"nice":false,"zero":false},"axis":null},"x2":{"field":"x1"},"y":{"field":"y0","type":"quantitative","scale":{"domain":[469,0],"nice":false,"zero":false},"axis":null},"y2":{"field":"y1"}}},
{"data":{"name":"headers"},"mark":{"type":"rect","color":"#ffffff"},"encoding":{"x":{"field":"x0","type":"quantitative","axis":null},"x2":{"field":"x1"},"y":{"field":"y0","type":"quantitative","axis":null},"y2":{"field":"y1"}}},
{"data":{"name":"tiles"},"mark":{"type":"rect"},"encoding":{"x":{"field":"x0","type":"quantitative","axis":null},"x2":{"field":"x1"},"y":{"field":"y0","type":"quantitative","axis":null},"y2":{"field":"y1"},"color":{"field":"chg","type":"quantitative","legend":null,"scale":{"type":"threshold","domain":[-4,-3,-2,-1,0,1,2,3,4],"range":["#ff0012","#d4000f","#aa000a","#7c0007","#3f0003","#034d00","#1a7d00","#22aa00","#2bd600","#33ff00"]}}}},
{"data":{"name":"headers"},"transform":[{"calculate":"(datum.x0+datum.x1)/2","as":"xc"},{"calculate":"(datum.y0+datum.y1)/2","as":"yc"}],"mark":{"type":"text","font":"DejaVu Sans","fontSize":6.5,"color":"#111111","align":"center","baseline":"middle"},"encoding":{"x":{"field":"xc","type":"quantitative","axis":null},"y":{"field":"yc","type":"quantitative","axis":null},"text":{"field":"title"}}},
{"data":{"name":"tiles"},"transform":[{"filter":"datum.pct"},{"calculate":"(datum.x0+datum.x1)/2","as":"xc"},{"calculate":"(datum.y0+datum.y1)/2","as":"yc"},{"calculate":"(datum.x1-datum.x0)*(datum.y1-datum.y0)","as":"area"},{"calculate":"datum.name+'\\n'+datum.pct","as":"label"}],"mark":{"type":"text","font":"Noto Sans, DejaVu Sans","align":"center","baseline":"middle","lineBreak":"\n"},"encoding":{"x":{"field":"xc","type":"quantitative","axis":null},"y":{"field":"yc","type":"quantitative","axis":null},"text":{"field":"label"},"size":{"field":"area","type":"quantitative","legend":null,"scale":{"type":"linear","domain":[0,11000],"range":[0,17],"clamp":true}},"color":{"condition":{"test":"datum.chg>=4","value":"#000000"},"value":"#ffffff"}}},
{"data":{"name":"tiles"},"transform":[{"filter":"!datum.pct && datum.name"},{"calculate":"(datum.x0+datum.x1)/2","as":"xc"},{"calculate":"(datum.y0+datum.y1)/2","as":"yc"}],"mark":{"type":"text","font":"Noto Sans, DejaVu Sans","fontSize":7.5,"align":"center","baseline":"middle"},"encoding":{"x":{"field":"xc","type":"quantitative","axis":null},"y":{"field":"yc","type":"quantitative","axis":null},"text":{"field":"name"},"color":{"condition":{"test":"datum.chg>=4","value":"#000000"},"value":"#ffffff"}}},
{"data":{"name":"marks"},"mark":{"type":"text","font":"Noto Sans","align":"left","baseline":"middle","color":"#c8c8c8","opacity":0.55},"encoding":{"x":{"field":"x","type":"quantitative","axis":null},"y":{"field":"y","type":"quantitative","axis":null},"text":{"field":"t"},"size":{"field":"k","type":"nominal","legend":null,"scale":{"domain":["a","b"],"range":[13,8]}}}}
],
"resolve":{"scale":{"size":"independent"}},
"config":{"style":{"cell":{"stroke":null}}}}
